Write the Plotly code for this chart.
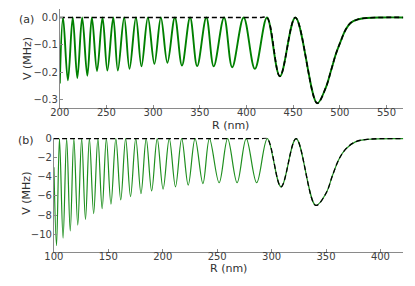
import plotly.graph_objects as go

# ---------------- panel (a) data ----------------
a_R = [200, 203.5, 208.7, 213.9, 218.8, 224, 229.5, 234.4, 239.9, 245.8, 251, 257.3,
       262.2, 269, 274.7, 281.6, 287.5, 294.4, 301.4, 308.3, 315.3, 323.3, 330.9,
       339.6, 347.2, 357, 364.9, 376, 384.7, 397, 409, 422, 435.8, 452.4, 475.7,
       485, 490.6, 495.8, 501, 506.3, 511.5, 518.4, 528.9, 545, 568]
a_V = [-0.24, 0, -0.229, 0, -0.220, 0, -0.212, 0, -0.195, 0, -0.193, 0,
       -0.193, 0, -0.187, 0, -0.178, 0, -0.169, 0, -0.165, 0, -0.175,
       0, -0.177, 0, -0.178, 0, -0.181, 0, -0.187, 0, -0.214, 0, -0.312,
       -0.255, -0.193, -0.133, -0.086, -0.044, -0.020, -0.008, -0.002, 0, 0]
a_flat_R = [200, 416]          # dashed line lies on zero up to the transition
a_trans = 422

# ---------------- panel (b) data ----------------
b_R = [100, 102.4, 105.1, 108.4, 111.7, 115.0, 118.3, 121.9, 125.5, 129.0, 132.6,
       136.5, 140.4, 144.3, 148.2, 152.4, 156.9, 161.4, 165.9, 170.4, 175.2, 180,
       184.8, 189.8, 194.9, 200.3, 206, 211.7, 217.4, 223.4, 229.7, 236.9, 242.9,
       251.8, 259.6, 268.3, 276.7, 286.3, 296.1, 308.7, 322.5, 340.5,
       350, 356, 362, 368, 377, 389, 421]
b_V = [-3.0, -11.2, 0, -10.4, 0, -9.66, 0, -9.04, 0, -8.46, 0,
       -7.84, 0, -7.33, 0, -6.85, 0, -6.41, 0, -6.06, 0, -5.76,
       0, -5.48, 0, -5.28, 0, -5.04, 0, -4.86, 0, -4.70, 0,
       -4.62, 0, -4.62, 0, -4.62, 0, -5.04, 0, -6.99,
       -5.72, -3.84, -2.13, -1.10, -0.34, -0.07, 0]
b_flat_R = [100, 291]
b_trans = 296.1

a_xticks = [200, 250, 300, 350, 400, 450, 500, 550]
a_yticks = [0.0, -0.1, -0.2, -0.3]
b_xticks = [100, 150, 200, 250, 300, 350, 400]
b_yticks = [0, -2, -4, -6, -8, -10]

# dashed curves: zero line, then the full potential beyond the transition
ia = a_R.index(a_trans)
ib = b_R.index(b_trans)
a_dR = a_flat_R + a_R[ia:]
a_dV = [0] * len(a_flat_R) + a_V[ia:]
b_dR = b_flat_R + b_R[ib:]
b_dV = [0] * len(b_flat_R) + b_V[ib:]

W, H = 415, 286
fig = go.Figure()
fig.add_trace(go.Scatter(x=a_R, y=a_V, mode="lines", xaxis="x", yaxis="y",
                         line=dict(color="#008000", width=1.9, shape="spline", smoothing=1.0),
                         hoverinfo="skip"))
fig.add_trace(go.Scatter(x=a_dR, y=a_dV, mode="lines", xaxis="x", yaxis="y",
                         line=dict(color="black", width=1.6, dash="5px,3px", shape="spline", smoothing=1.0),
                         hoverinfo="skip"))
fig.add_trace(go.Scatter(x=b_R, y=b_V, mode="lines", xaxis="x2", yaxis="y2",
                         line=dict(color="#1f8f1f", width=1.2, shape="spline", smoothing=1.0),
                         hoverinfo="skip"))
fig.add_trace(go.Scatter(x=b_dR, y=b_dV, mode="lines", xaxis="x2", yaxis="y2",
                         line=dict(color="black", width=1.3, dash="5px,3px", shape="spline", smoothing=1.0),
                         hoverinfo="skip"))

ax_common = dict(showgrid=False, zeroline=False, showline=True, linecolor="#8a8a8a",
                 linewidth=1, ticks="inside", ticklen=3, tickcolor="#8a8a8a",
                 tickfont=dict(family="DejaVu Sans", size=10, color="#404040"),
                 mirror=False)
xstand = dict(ticklabelstandoff=-5)
ystand = dict(ticklabelstandoff=-1)

fig.update_layout(
    width=W, height=H, margin=dict(l=0, r=0, t=0, b=0),
    paper_bgcolor="white", plot_bgcolor="white", showlegend=False,
    xaxis=dict(domain=[51 / W, 403 / W], range=[200, 568], tickvals=a_xticks,
               anchor="y", **ax_common, **xstand),
    yaxis=dict(domain=[1 - 105 / H, 1 - 4 / H], range=[-0.33, 0.031], tickvals=a_yticks,
               tickformat=".1f", anchor="x", **ax_common, **ystand),
    xaxis2=dict(domain=[45 / W, 403 / W], range=[100, 421], tickvals=b_xticks,
                anchor="y2", **ax_common, **xstand),
    yaxis2=dict(domain=[1 - 251 / H, 1 - 135 / H], range=[-11.82, 0.1], tickvals=b_yticks,
                anchor="x2", **ax_common, **ystand),
)

tfont = dict(family="DejaVu Sans", size=11, color="#303030")
anns = [
    dict(text="(a)", x=17 / W, y=1 - 15 / H),
    dict(text="(b)", x=16 / W, y=1 - 138 / H),
    dict(text="R (nm)", x=226 / W, y=1 - 123 / H),
    dict(text="R (nm)", x=224 / W, y=1 - 268 / H),
    dict(text="V (MHz)", x=17.5 / W, y=1 - 55 / H, textangle=-90),
    dict(text="V (MHz)", x=17.5 / W, y=1 - 192 / H, textangle=-90),
]
for a in anns:
    fig.add_annotation(xref="paper", yref="paper", showarrow=False, font=tfont,
                       xanchor="center", yanchor="middle", **a)

fig.write_html("out.html", config={"displayModeBar": False},
               post_script="document.body.style.margin='0';document.body.style.padding='0';"
                           "document.body.style.overflow='hidden';")
